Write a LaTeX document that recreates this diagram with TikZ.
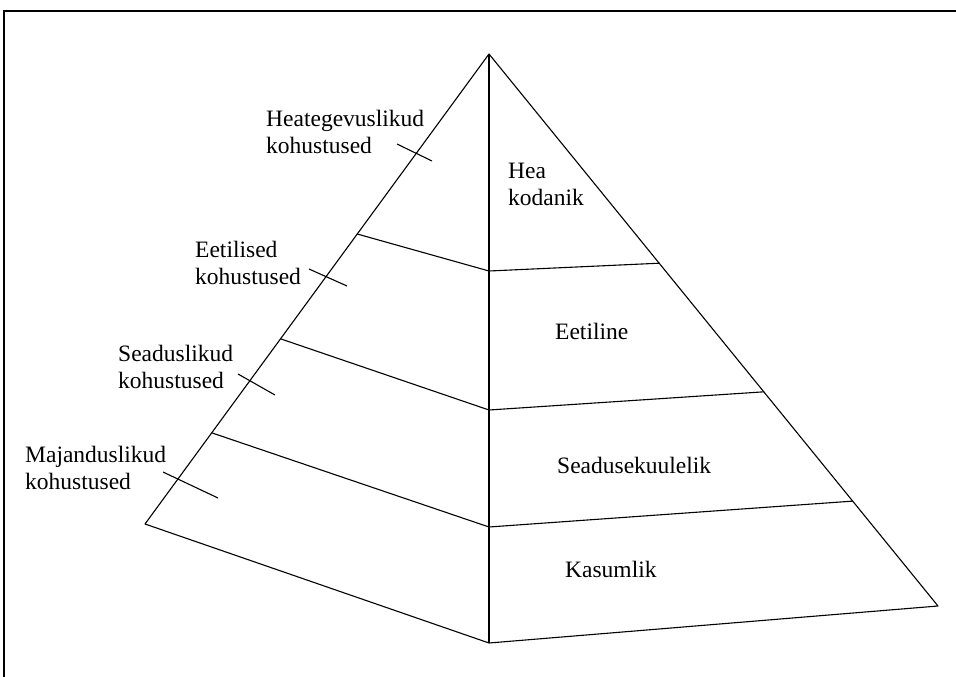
\documentclass[tikz,border=0pt]{standalone}
\usepackage{fontspec}
\setmainfont{Liberation Serif}
\usetikzlibrary{calc}
\begin{document}
\begin{tikzpicture}[x=1pt,y=-1pt,
  lab/.style={anchor=base west,inner sep=0pt,font=\fontsize{23.5}{27}\selectfont},
  edgeline/.style={line width=1.1pt,line cap=round,line join=round},
  midline/.style={line width=1.5pt},
  tick/.style={line width=1.1pt},
  frame/.style={line width=2.2pt}]
\useasboundingbox (0,0) rectangle (956,677);
\draw[frame] (4,11) rectangle (975,700);
% vertices
\coordinate (A) at (489,54);
\coordinate (L) at (145,524);
\coordinate (B) at (489,643);
\coordinate (R) at (938,606);
\coordinate (C1) at (489,271);
\coordinate (C2) at (489,410);
\coordinate (C3) at (489,527);
\coordinate (P1L) at ($(A)!0.383!(L)$);
\coordinate (P2L) at ($(A)!0.606!(L)$);
\coordinate (P3L) at ($(A)!0.806!(L)$);
\coordinate (P1R) at ($(A)!0.379!(R)$);
\coordinate (P2R) at ($(A)!0.612!(R)$);
\coordinate (P3R) at ($(A)!0.81!(R)$);
% outline
\draw[edgeline] (A) -- (L) -- (B) -- (R) -- cycle;
\draw[midline] (A) -- (B);
% tiers
\draw[edgeline] (P1L) -- (C1) -- (P1R);
\draw[edgeline] (P2L) -- (C2) -- (P2R);
\draw[edgeline] (P3L) -- (C3) -- (P3R);
% ticks
\coordinate (t1a) at (397,144); \coordinate (t1b) at (432,161);
\coordinate (t2a) at (309,269); \coordinate (t2b) at (347,286);
\coordinate (t3a) at (238,374); \coordinate (t3b) at (275,395);
\coordinate (t4a) at (163,472); \coordinate (t4b) at (218,498);
\draw[tick] (t1a) -- (t1b);
\draw[tick] (t2a) -- (t2b);
\draw[tick] (t3a) -- (t3b);
\draw[tick] (t4a) -- (t4b);
% left labels
\node[lab] (h1) at (266,126) {Heategevuslikud};
\node[lab] (h2) at (266,153) {kohustused};
\node[lab] (e1) at (195,257) {Eetilised};
\node[lab] (e2) at (195,284) {kohustused};
\node[lab] (s1) at (118,361) {Seaduslikud};
\node[lab] (s2) at (118,388) {kohustused};
\node[lab] (m1) at (25,462) {Majanduslikud};
\node[lab] (m2) at (25,489) {kohustused};
% right labels
\node[lab] (k1) at (508,178) {Hea};
\node[lab] (k2) at (508,205) {kodanik};
\node[lab] (et) at (555,339) {Eetiline};
\node[lab] (sk) at (557,473) {Seadusekuulelik};
\node[lab] (ka) at (565,577) {Kasumlik};
\end{tikzpicture}
\end{document}
